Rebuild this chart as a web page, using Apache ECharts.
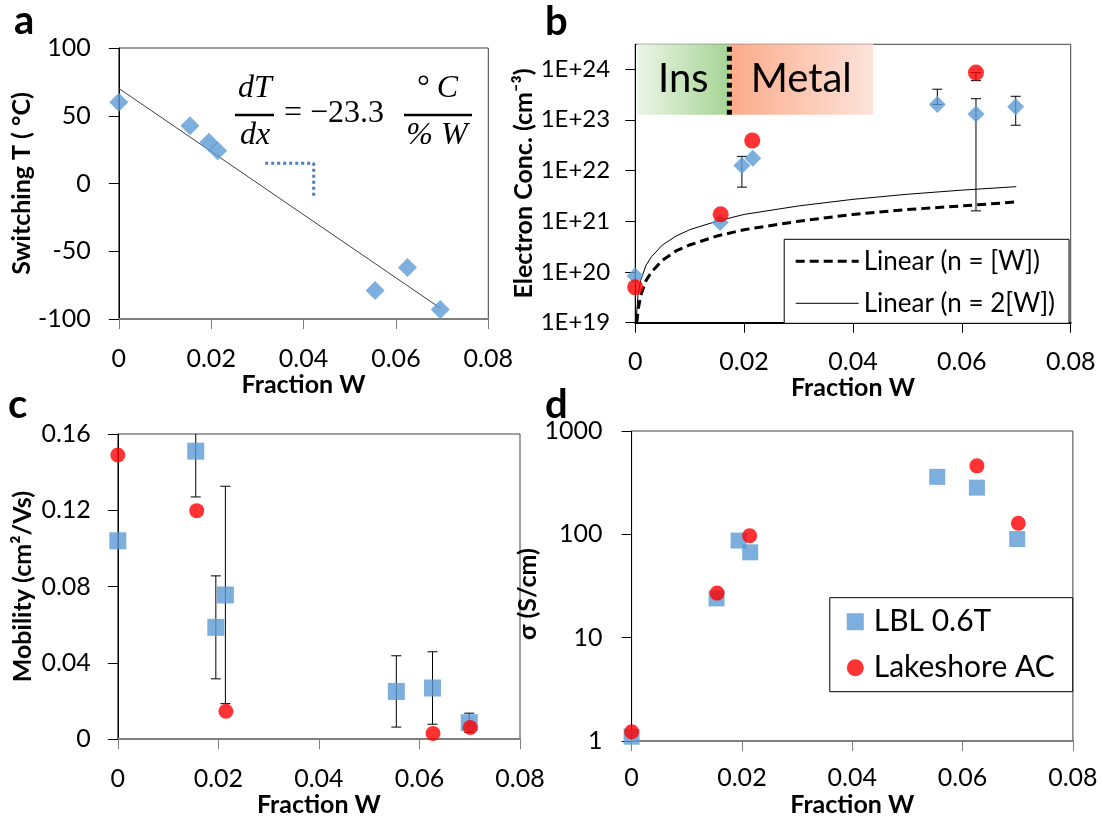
<!DOCTYPE html>
<html><head><meta charset="utf-8">
<script src="https://cdn.jsdelivr.net/npm/echarts@6/dist/echarts.min.js"></script>
<style>html,body{margin:0;padding:0;background:#fff}#c{width:1103px;height:818px}</style>
</head><body><div id="c"></div>
<script>
// ---------------- data ----------------
const xTicks = [0, 0.02, 0.04, 0.06, 0.08];
// panel a : switching temperature
const aW = [0, 0.0154, 0.0195, 0.0214, 0.0555, 0.0625, 0.0696];
const aT = [60, 42.7, 30.4, 24.2, -79, -62, -93];
const aFitW = [0, 0.0697];
const aFitT = [70.2, -92.2];
const aGuideW = [0.0317, 0.0422, 0.0422];
const aGuideT = [15, 15, -11];
const aTicks = [-100, -50, 0, 50, 100];
// panel b : electron concentration
const bDiaW = [0, 0.0156, 0.0196, 0.0216, 0.0555, 0.0626, 0.0699];
const bDiaN = [8.3e19, 9.4e20, 1.25e22, 1.75e22, 2.0e23, 1.3e23, 1.8e23];
const bDiaLo = [8.3e19, 9.4e20, 4.7e21, 1.75e22, 2.0e23, 1.6e21, 7.8e22];
const bDiaHi = [8.3e19, 9.4e20, 1.9e22, 1.75e22, 4.0e23, 2.6e23, 2.9e23];
const bDotW = [0, 0.0157, 0.0215, 0.0626];
const bDotN = [5.0e19, 1.37e21, 3.9e22, 8.5e23];
const bDotLo = [5.0e19, 1.37e21, 3.9e22, 5.9e23];
const bDotHi = [5.0e19, 1.37e21, 3.9e22, 8.5e23];
const bLin1W = [0.0003, 0.0005, 0.001, 0.002, 0.003, 0.005, 0.0075, 0.01, 0.015, 0.02, 0.03, 0.04, 0.05, 0.06, 0.07];
const bLin1N = [1.0e19, 1.7e19, 3.4e19, 6.8e19, 1.0e20, 1.7e20, 2.6e20, 3.4e20, 5.1e20, 6.8e20, 1.0e21, 1.36e21, 1.7e21, 2.0e21, 2.4e21];
const bLin2W = [0.00015, 0.0005, 0.001, 0.002, 0.003, 0.005, 0.0075, 0.01, 0.015, 0.02, 0.03, 0.04, 0.05, 0.06, 0.07];
const bLin2N = [1.0e19, 3.4e19, 6.8e19, 1.36e20, 2.0e20, 3.4e20, 5.1e20, 6.8e20, 1.0e21, 1.36e21, 2.0e21, 2.7e21, 3.4e21, 4.1e21, 4.8e21];
const bTicks = [1e19, 1e20, 1e21, 1e22, 1e23, 1e24];
const bMax = 3.07e24;
const bRegionW = [0.0004, 0.0173, 0.0437];
const bRegionN = [1.25e23, 3.07e24];
const bRegionNames = ['Ins', 'Metal'];
// panel c : mobility
const cSqW = [0, 0.0155, 0.0195, 0.0214, 0.0554, 0.0626, 0.0699];
const cSqMu = [0.104, 0.151, 0.0586, 0.0756, 0.025, 0.0268, 0.0086];
const cSqErr = [0, 0.024, 0.027, 0.057, 0.0187, 0.019, 0.005];
const cDotW = [0, 0.0157, 0.0215, 0.0627, 0.0701];
const cDotMu = [0.149, 0.1198, 0.0146, 0.003, 0.0061];
const cTicks = [0, 0.04, 0.08, 0.12, 0.16];
// panel d : conductivity
const dSqW = [0, 0.0154, 0.0194, 0.0215, 0.0554, 0.0626, 0.0699];
const dSqS = [1.1, 24, 87, 67, 360, 283, 90];
const dDotW = [0, 0.0155, 0.0214, 0.0626, 0.0701];
const dDotS = [1.23, 27, 97, 460, 128];
const dTicks = [1, 10, 100, 1000];

// ---------------- helpers ----------------
const F = 'Lato, "Open Sans", sans-serif';
const SERIF = '"Liberation Serif", "DejaVu Serif", serif';
const BLUE = '#5b9bd5', RED = '#ff0000';
const zip = (a, b) => a.map((v, i) => [v, b[i]]);

function xAx(g, nameGap, margin, lineColor) {
  return {
    type: 'value', gridIndex: g, min: xTicks[0], max: xTicks[xTicks.length - 1], interval: xTicks[1] - xTicks[0],
    name: 'Fraction W', nameLocation: 'middle', nameGap: nameGap,
    nameTextStyle: {fontFamily: F, fontWeight: 'bold', fontSize: 25, color: '#000'},
    axisLine: {show: true, onZero: false, lineStyle: {color: lineColor, width: 2}},
    axisTick: {show: true, length: 10, lineStyle: {color: lineColor, width: 1}},
    axisLabel: {fontFamily: F, fontSize: 25, color: '#000', margin: margin},
    splitLine: {show: false}
  };
}
function yBase(g, name, nameGap, margin) {
  return {
    gridIndex: g, name: name, nameLocation: 'middle', nameGap: nameGap,
    nameTextStyle: {fontFamily: F, fontWeight: 'bold', fontSize: 25, color: '#000'},
    axisLine: {show: true, onZero: false, lineStyle: {color: '#000', width: 1}},
    axisTick: {show: true, length: 10, lineStyle: {color: '#000', width: 1}},
    axisLabel: {fontFamily: F, fontSize: 25, color: '#000', margin: margin},
    splitLine: {show: false}
  };
}
function errRender(params, api) {
  const x = api.value(0), lo = api.value(1), hi = api.value(2);
  const pL = api.coord([x, lo]), pH = api.coord([x, hi]);
  const w = 5, st = {stroke: '#000', lineWidth: 1};
  return {type: 'group', children: [
    {type: 'line', shape: {x1: pL[0], y1: pL[1], x2: pH[0], y2: pH[1]}, style: st},
    {type: 'line', shape: {x1: pL[0] - w, y1: pL[1], x2: pL[0] + w, y2: pL[1]}, style: st},
    {type: 'line', shape: {x1: pH[0] - w, y1: pH[1], x2: pH[0] + w, y2: pH[1]}, style: st}
  ]};
}
function errData(w, lo, hi) {
  const out = [];
  w.forEach((v, i) => { if (hi[i] > lo[i]) out.push([v, lo[i], hi[i]]); });
  return out;
}
const grad = (c0, c1) => new echarts.graphic.LinearGradient(0, 0, 1, 0, [{offset: 0, color: c0}, {offset: 1, color: c1}]);

// ---------------- chart ----------------
const chart = echarts.init(document.getElementById('c'), null, {renderer: 'canvas'});
const gridStyle = {show: true, borderColor: '#404040', borderWidth: 1, backgroundColor: 'transparent'};

const option = {
  animation: false,
  backgroundColor: '#fff',
  grid: [
    Object.assign({left: 118.8, top: 48, width: 369.5, height: 271}, gridStyle),
    Object.assign({left: 635.2, top: 44.3, width: 435.5, height: 278.4}, gridStyle),
    Object.assign({left: 117.8, top: 434, width: 402.2, height: 306.7}, gridStyle),
    Object.assign({left: 631.6, top: 431, width: 441.3, height: 310.7}, gridStyle)
  ],
  xAxis: [
    xAx(0, 53, 27, '#7f7f7f'),
    xAx(1, 53, 27, '#000'),
    xAx(2, 52, 27, '#7f7f7f'),
    xAx(3, 51, 24, '#7f7f7f')
  ],
  yAxis: [
    Object.assign(yBase(0, 'Switching T ( °C)', 83, 28), {type: 'value', min: aTicks[0], max: aTicks[aTicks.length - 1], interval: aTicks[1] - aTicks[0]}),
    Object.assign(yBase(1, 'Electron Conc. (cm⁻³)', 98, 25), {
      type: 'log', logBase: 10, min: bTicks[0], max: bMax,
      axisLabel: {fontFamily: F, fontSize: 24, color: '#000', margin: 25,
        customValues: bTicks, formatter: v => '1E+' + Math.round(Math.log10(v))},
      axisTick: {show: true, length: 10, customValues: bTicks, lineStyle: {color: '#000', width: 1}}
    }),
    Object.assign(yBase(2, 'Mobility (cm²/Vs)', 82, 27), {type: 'value', min: cTicks[0], max: cTicks[cTicks.length - 1], interval: cTicks[1] - cTicks[0]}),
    Object.assign(yBase(3, 'σ (S/cm)', 65, 29), {type: 'log', logBase: 10, min: dTicks[0], max: dTicks[dTicks.length - 1],
      axisLabel: {fontFamily: F, fontSize: 25, color: '#000', margin: 29, formatter: v => String(Math.round(v))},
      nameTextStyle: {fontFamily: F, fontWeight: 'bold', fontSize: 25, color: '#000', padding: [0, 16, 0, 0]}})
  ],
  legend: [
    {
      data: [
        {name: 'Linear (n = [W])', lineStyle: {color: '#000', width: 3, type: [9, 5]}},
        {name: 'Linear (n = 2[W])', lineStyle: {color: '#000', width: 1, type: 'solid'}}
      ],
      orient: 'vertical', left: 784.2, top: 239.3,
      padding: [9, 14, 7, 10], itemGap: 16, itemWidth: 63, itemHeight: 14,
      itemStyle: {opacity: 0},
      backgroundColor: '#fff', borderColor: '#000', borderWidth: 1, borderRadius: 0,
      textStyle: {fontFamily: F, fontSize: 26, color: '#000'}
    },
    {
      data: ['LBL 0.6T', 'Lakeshore AC'],
      orient: 'vertical', left: 829.8, top: 597.7,
      padding: [9, 18, 9, 17], itemGap: 16, itemWidth: 17, itemHeight: 17,
      backgroundColor: '#fff', borderColor: '#000', borderWidth: 1, borderRadius: 0,
      textStyle: {fontFamily: F, fontSize: 30, color: '#000', padding: [0, 0, 0, 5]}
    }
  ],
  series: [
    // ---- a ----
    {type: 'line', name: 'fitA', xAxisIndex: 0, yAxisIndex: 0, data: zip(aFitW, aFitT), symbol: 'none',
      lineStyle: {color: '#404040', width: 1}, z: 2},
    {type: 'line', name: 'guideA', xAxisIndex: 0, yAxisIndex: 0, data: zip(aGuideW, aGuideT), symbol: 'none',
      lineStyle: {color: '#4a7ebb', width: 3, type: [3, 3]}, z: 2},
    {type: 'scatter', name: 'aPts', xAxisIndex: 0, yAxisIndex: 0, data: zip(aW, aT), symbol: 'diamond', symbolSize: 19,
      itemStyle: {color: BLUE}, clip: false, z: 3},
    // ---- b ----
    {type: 'line', name: 'divider', xAxisIndex: 1, yAxisIndex: 1,
      data: [[bRegionW[1], bRegionN[0]], [bRegionW[1], bRegionN[1]]], symbol: 'none',
      lineStyle: {color: '#000', width: 5, type: [5, 4]}, z: 2,
      markArea: {silent: true,
        label: {show: true, position: 'inside', fontFamily: F, fontSize: 40, color: '#000'},
        data: [
          [{name: bRegionNames[0], xAxis: bRegionW[0], yAxis: bRegionN[0], itemStyle: {color: grad('#ebf5e6', '#a6d495'), opacity: 1}},
           {xAxis: bRegionW[1], yAxis: bRegionN[1]}],
          [{name: bRegionNames[1], xAxis: bRegionW[1], yAxis: bRegionN[0], itemStyle: {color: grad('#fbab8a', '#fde3da'), opacity: 1}},
           {xAxis: bRegionW[2], yAxis: bRegionN[1]}]
        ]}},
    {type: 'line', name: 'Linear (n = [W])', xAxisIndex: 1, yAxisIndex: 1, data: zip(bLin1W, bLin1N), symbol: 'none',
      color: '#000', lineStyle: {color: '#000', width: 3, type: [9, 5]}, z: 3},
    {type: 'line', name: 'Linear (n = 2[W])', xAxisIndex: 1, yAxisIndex: 1, data: zip(bLin2W, bLin2N), symbol: 'none',
      color: '#000', lineStyle: {color: '#000', width: 1}, z: 3},
    {type: 'custom', name: 'errB', xAxisIndex: 1, yAxisIndex: 1, renderItem: errRender, clip: true,
      data: errData(bDiaW, bDiaLo, bDiaHi).concat(errData(bDotW, bDotLo, bDotHi)), z: 3},
    {type: 'scatter', name: 'bDia', xAxisIndex: 1, yAxisIndex: 1, data: zip(bDiaW, bDiaN), symbol: 'diamond', symbolSize: 17,
      itemStyle: {color: BLUE}, clip: false, z: 4},
    {type: 'scatter', name: 'bDot', xAxisIndex: 1, yAxisIndex: 1, data: zip(bDotW, bDotN), symbol: 'circle', symbolSize: 16,
      itemStyle: {color: RED}, clip: false, z: 5},
    // ---- c ----
    {type: 'custom', name: 'errC', xAxisIndex: 2, yAxisIndex: 2, renderItem: errRender, clip: true,
      data: errData(cSqW, cSqMu.map((v, i) => v - cSqErr[i]), cSqMu.map((v, i) => v + cSqErr[i])), z: 3},
    {type: 'scatter', name: 'cSq', xAxisIndex: 2, yAxisIndex: 2, data: zip(cSqW, cSqMu), symbol: 'rect', symbolSize: 17,
      itemStyle: {color: BLUE}, clip: false, z: 4},
    {type: 'scatter', name: 'cDot', xAxisIndex: 2, yAxisIndex: 2, data: zip(cDotW, cDotMu), symbol: 'circle', symbolSize: 15,
      itemStyle: {color: RED}, clip: false, z: 5},
    // ---- d ----
    {type: 'scatter', name: 'LBL 0.6T', xAxisIndex: 3, yAxisIndex: 3, data: zip(dSqW, dSqS), symbol: 'rect', symbolSize: 16,
      itemStyle: {color: BLUE}, clip: false, z: 4},
    {type: 'scatter', name: 'Lakeshore AC', xAxisIndex: 3, yAxisIndex: 3, data: zip(dDotW, dDotS), symbol: 'circle', symbolSize: 15,
      itemStyle: {color: RED}, clip: false, z: 5}
  ]
};

// panel letters and the slope equation (annotations in pixel space)
const letter = (t, x, y) => ({type: 'text', x: x, y: y, silent: true,
  style: {text: t, font: 'bold 40px ' + F, fill: '#000', verticalAlign: 'middle', align: 'left'}});
const eqText = (t, x, y, italic, align) => ({type: 'text', x: x, y: y, silent: true,
  style: {text: t, font: (italic ? 'italic ' : '') + '32px ' + SERIF, fill: '#000', verticalAlign: 'middle', align: align || 'center'}});
const bar = (x1, x2, y) => ({type: 'line', silent: true, shape: {x1: x1, y1: y, x2: x2, y2: y}, style: {stroke: '#000', lineWidth: 2.5}});
option.graphic = [
  letter('a', 14, 21), letter('b', 545, 22), letter('c', 8, 405), letter('d', 545, 405),
  eqText('dT', 255, 89, true), bar(235, 274, 115), eqText('dx', 255, 136, true),
  eqText('= −23.3', 284, 114, false, 'left'),
  eqText('° C', 437, 89, true), bar(404, 472, 115), eqText('% W', 437, 136, true)
];

chart.setOption(option);
</script>
</body></html>
